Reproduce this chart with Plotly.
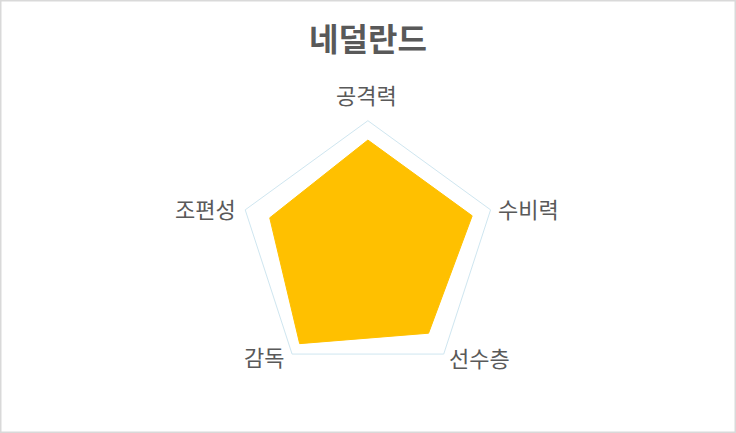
import plotly.graph_objects as go

# 네덜란드 전력 평가 (10점 만점)
categories = ["공격력", "수비력", "선수층", "감독", "조편성"]
values = [8.5, 8.5, 8.0, 9.0, 8.0]
team = "네덜란드"

W, H = 736, 433
cx, cy, R = 367.9, 249.7, 129  # px, from top-left

# label anchors (px from top-left) and alignment
label_pos = [(366, 94, "center"), (496, 208, "left"), (447, 357, "left"),
             (286, 356, "right"), (238, 208, "right")]

fig = go.Figure()
fig.add_trace(go.Scatterpolar(
    r=values + values[:1],
    theta=categories + categories[:1],
    mode="lines",
    fill="toself",
    fillcolor="#FFC000",
    line=dict(color="#FFC000", width=1),
    hoverinfo="skip",
))

annotations = []
for name, (px, py, anchor) in zip(categories, label_pos):
    annotations.append(dict(
        text=name, xref="paper", yref="paper",
        x=px / W, y=1 - py / H, xanchor=anchor, yanchor="middle",
        showarrow=False, font=dict(size=22, color="#595959"),
    ))

fig.update_layout(
    width=W,
    height=H,
    margin=dict(l=0, r=0, t=0, b=0),
    paper_bgcolor="white",
    showlegend=False,
    font=dict(family="Noto Sans CJK KR", color="#595959"),
    title=dict(
        text="<b>" + team + "</b>",
        x=0.5, xanchor="center",
        y=1 - 40 / H, yanchor="middle",
        font=dict(size=32, color="#595959"),
    ),
    polar=dict(
        bgcolor="white",
        gridshape="linear",
        domain=dict(
            x=[(cx - R) / W, (cx + R) / W],
            y=[(H - cy - R) / H, (H - cy + R) / H],
        ),
        radialaxis=dict(range=[0, 10], visible=False, showgrid=False),
        angularaxis=dict(
            rotation=90,
            direction="clockwise",
            showgrid=False,
            showline=True,
            linecolor="#CFE6F0",
            linewidth=1,
            ticks="",
            showticklabels=False,
        ),
    ),
    annotations=annotations,
    shapes=[dict(
        type="rect", xref="paper", yref="paper",
        x0=0, y0=0, x1=1, y1=1,
        line=dict(color="#D9D9D9", width=3),
    )],
)

fig.write_html("out.html", config={"displayModeBar": False},
               post_script="document.body.style.margin='0';")
